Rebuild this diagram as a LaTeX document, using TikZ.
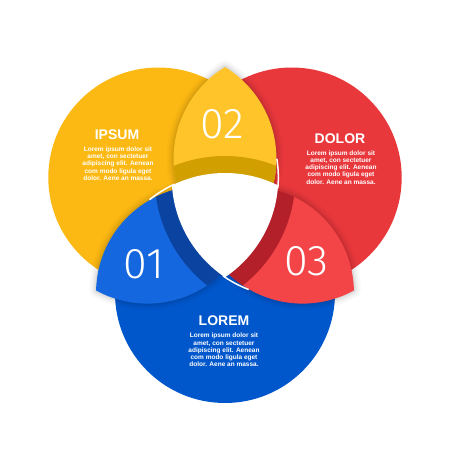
\documentclass[tikz,border=0pt]{standalone}
\usepackage{fontspec}
\setmainfont{Liberation Sans}
\newfontfamily\numfont{Fira Sans Light}
\definecolor{yel}{HTML}{FDB913}
\definecolor{yelL}{HTML}{FEC42A}
\definecolor{yelD}{HTML}{D1A000}
\definecolor{redM}{HTML}{E8383C}
\definecolor{redL}{HTML}{F34548}
\definecolor{redD}{HTML}{B3202A}
\definecolor{blu}{HTML}{0057CC}
\definecolor{bluL}{HTML}{1467DE}
\definecolor{bluD}{HTML}{0A43A0}
\newcommand\lenspath{(225,67.1) arc[start angle=-58.7,end angle=58.7,radius=107] arc[start angle=121.3,end angle=238.7,radius=107] -- cycle}
\newcommand\tabpiece[3]{%
  \begin{scope}[rotate around={#1:(225,216)}]
    \foreach \w/\o in {14/0.02,10/0.03,6/0.04,3/0.05}{\draw[line width=\w pt, black, opacity=\o, line join=round] \lenspath;}
    \fill[#2] \lenspath;
    \begin{scope}
      \clip \lenspath;
      \fill[#3] (225,293) circle[radius=137];
    \end{scope}
  \end{scope}}
\tikzset{
  title/.style={text=white, font=\bfseries\fontsize{14}{14}\selectfont, inner sep=0pt},
  body/.style={text=white, font=\bfseries\fontsize{6.5}{7.3}\selectfont, align=center, inner sep=0pt},
  num/.style={text=white, font=\numfont\fontsize{43}{43}\selectfont, inner sep=0pt},
  gapline/.style={white, line width=1.5pt}
}
\begin{document}
\begin{tikzpicture}[x=1pt,y=-1pt]
  \useasboundingbox (0,0) rectangle (450,450);
  \fill[white] (0,0) rectangle (450,450);
  % discs
  \fill[yel] (158.3,177.5) circle[radius=110];
  \fill[redM] (291.7,177.5) circle[radius=110];
  \fill[blu] (225,293) circle[radius=110];
  % tabs
  \tabpiece{0}{yelL}{yelD}
  \tabpiece{-120}{redL}{redD}
  \tabpiece{-240}{bluL}{bluD}
  % central hole
  \begin{scope}
    \clip (158.3,177.5) circle[radius=120];
    \clip (291.7,177.5) circle[radius=120];
    \fill[white] (225,293) circle[radius=120];
  \end{scope}
  \foreach \r in {0,-120,-240}{
    \begin{scope}[rotate around={\r:(225,216)}]
      \draw[gapline] (225,293) ++(245:120) arc[start angle=245,end angle=231,radius=120];
    \end{scope}}
  % numbers
  \node[num] (n02) at (222.5,124) {02};
  \node[num] (n01) at (144,264) {01};
  \node[num] (n03) at (306.5,261) {03};
  % texts
  \node[title] (ipsumT) at (117,135) {IPSUM};
  \node[body] (ipsumB) at (118,163.5) {Lorem ipsum dolor sit\\amet, con sectetuer\\adipiscing elit. Aenean\\com modo ligula eget\\dolor. Aene an massa.};
  \node[title] (dolorT) at (340,139) {DOLOR};
  \node[body] (dolorB) at (341,167.3) {Lorem ipsum dolor sit\\amet, con sectetuer\\adipiscing elit. Aenean\\com modo ligula eget\\dolor. Aene an massa.};
  \node[title] (loremT) at (224,321) {LOREM};
  \node[body] (loremB) at (224,350) {Lorem ipsum dolor sit\\amet, con sectetuer\\adipiscing elit. Aenean\\com modo ligula eget\\dolor. Aene an massa.};
\end{tikzpicture}
\end{document}
